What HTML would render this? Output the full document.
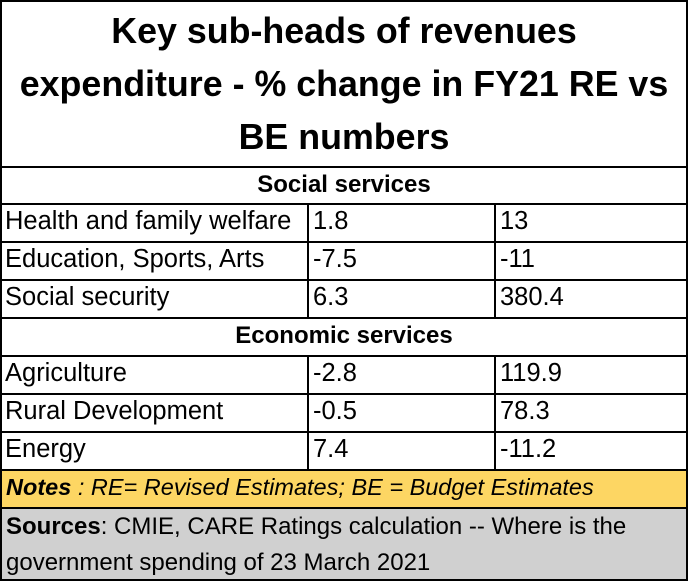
<!DOCTYPE html>
<html><head><style>
body{margin:0;width:688px;height:581px;background:#fff;font-family:"Liberation Sans",sans-serif;position:relative;overflow:hidden}
.b{position:absolute;box-sizing:border-box}
.t{position:absolute;white-space:nowrap;font-size:25.5px;color:#000}
.h{position:absolute;left:0;width:688px;height:2px;background:#000}
.v{position:absolute;width:2px;background:#000}
</style></head><body>
<div class="b" style="left:0;top:0;width:688px;height:581px;border:2px solid #000"></div>
<div class="t" style="left:0;width:688px;top:5px;text-align:center;font-weight:bold;font-size:35.8px;line-height:53px;white-space:normal">Key sub-heads of revenues<br>expenditure - % change in FY21 RE vs<br>BE numbers</div>
<div class="b" style="left:2px;top:469px;width:684px;height:38px;background:#fdd663"></div>
<div class="b" style="left:2px;top:507px;width:684px;height:72px;background:#d0d0d0"></div>
<div class="h" style="top:166px"></div>
<div class="h" style="top:203px"></div>
<div class="h" style="top:241px"></div>
<div class="h" style="top:279px"></div>
<div class="h" style="top:317px"></div>
<div class="h" style="top:355px"></div>
<div class="h" style="top:393px"></div>
<div class="h" style="top:431px"></div>
<div class="h" style="top:469px"></div>
<div class="h" style="top:507px"></div>
<div class="v" style="left:307px;top:203px;height:114px"></div>
<div class="v" style="left:494px;top:203px;height:114px"></div>
<div class="v" style="left:307px;top:355px;height:114px"></div>
<div class="v" style="left:494px;top:355px;height:114px"></div>
<div class="t" style="left:0;width:688px;text-align:center;top:171px;font-weight:bold;font-size:24px">Social services</div>
<div class="t" style="left:5px;top:207px">Health and family welfare</div>
<div class="t" style="left:313px;top:207px">1.8</div>
<div class="t" style="left:500px;top:207px">13</div>
<div class="t" style="left:5px;top:245px">Education, Sports, Arts</div>
<div class="t" style="left:313px;top:245px">-7.5</div>
<div class="t" style="left:500px;top:245px">-11</div>
<div class="t" style="left:5px;top:283px">Social security</div>
<div class="t" style="left:313px;top:283px">6.3</div>
<div class="t" style="left:500px;top:283px">380.4</div>
<div class="t" style="left:0;width:688px;text-align:center;top:322px;font-weight:bold;font-size:24px">Economic services</div>
<div class="t" style="left:5px;top:359px">Agriculture</div>
<div class="t" style="left:313px;top:359px">-2.8</div>
<div class="t" style="left:500px;top:359px">119.9</div>
<div class="t" style="left:5px;top:397px">Rural Development</div>
<div class="t" style="left:313px;top:397px">-0.5</div>
<div class="t" style="left:500px;top:397px">78.3</div>
<div class="t" style="left:5px;top:435px">Energy</div>
<div class="t" style="left:313px;top:435px">7.4</div>
<div class="t" style="left:500px;top:435px">-11.2</div>
<div class="t" style="left:6px;top:474px;font-style:italic;font-size:23.5px"><b>Notes</b> : RE= Revised Estimates; BE = Budget Estimates</div>
<div class="t" style="left:6px;top:509px;line-height:36px;white-space:normal;width:680px;font-size:24px"><b>Sources</b>: CMIE, CARE Ratings calculation -- Where is the<br>government spending of 23 March 2021</div>
</body></html>
